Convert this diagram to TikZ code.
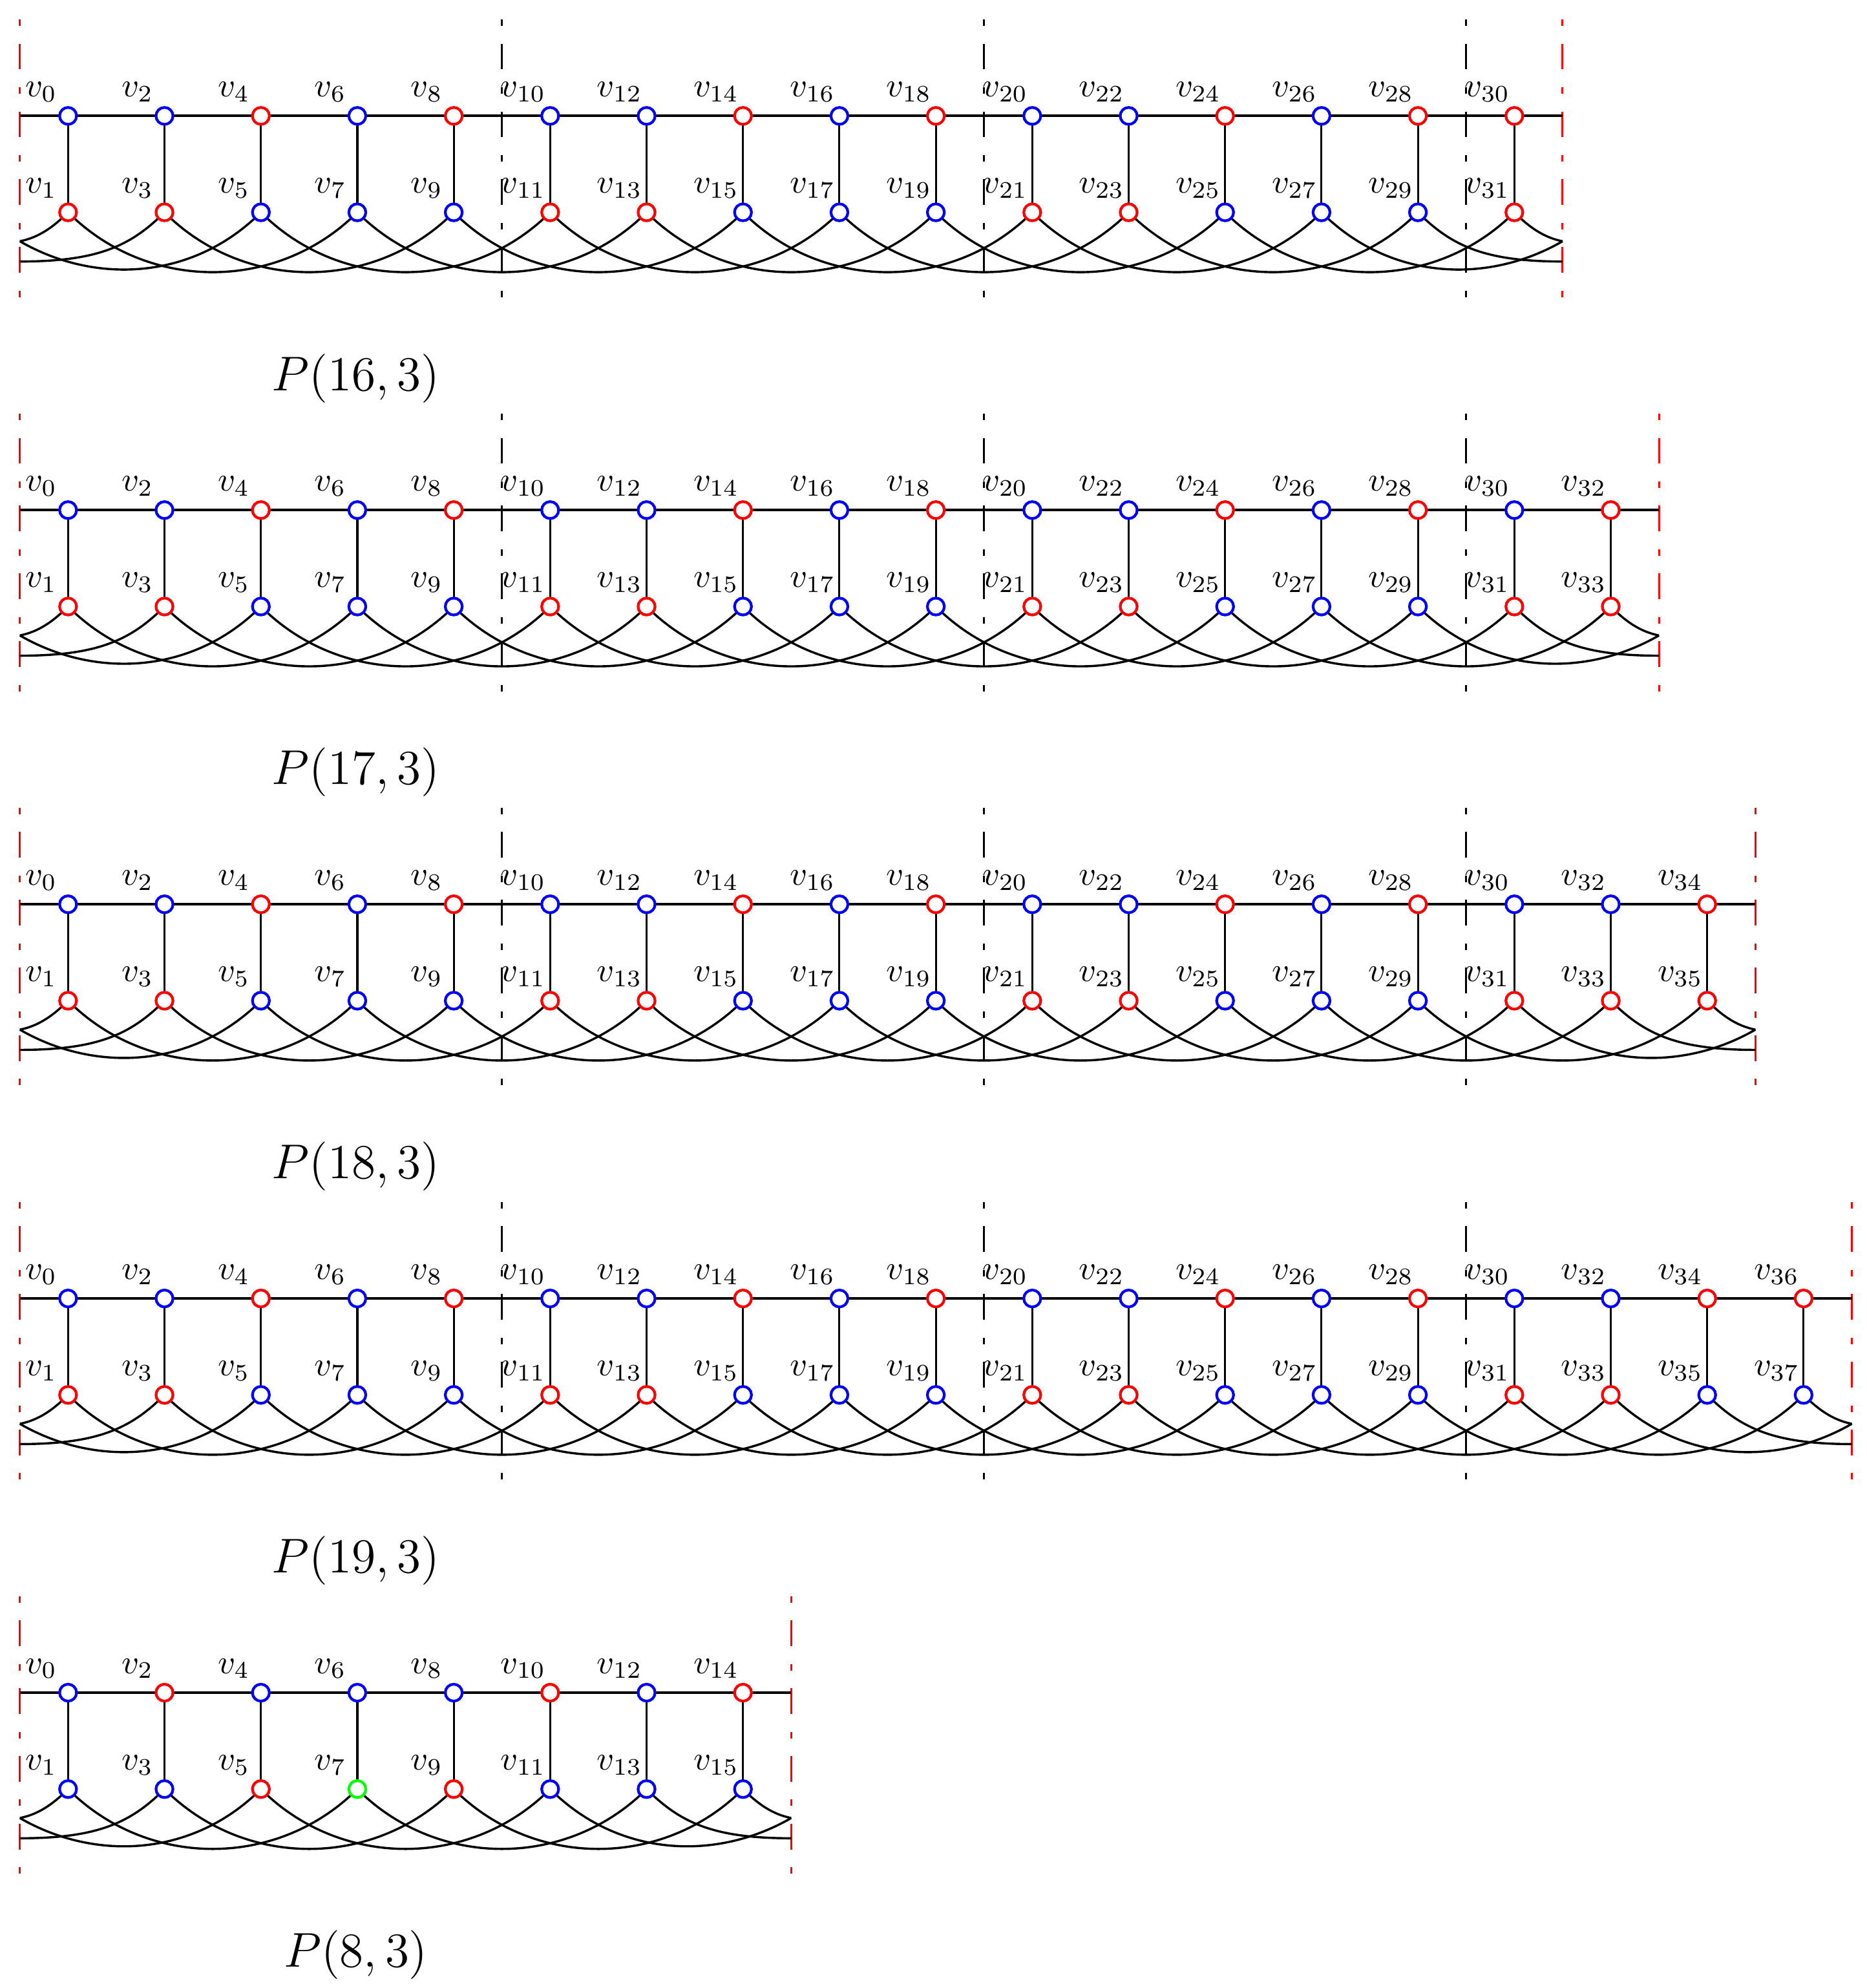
\documentclass[tikz,border=0pt]{standalone}
\usetikzlibrary{calc}
\definecolor{cB}{rgb}{0,0,1}
\definecolor{cR}{rgb}{1,0,0}
\definecolor{cG}{rgb}{0,1,0}
\tikzset{
  vtx/.style={circle, draw, fill=white, line width=0.8pt, minimum size=5pt, inner sep=0pt},
  rim/.style={line width=0.8pt},
  spoke/.style={line width=0.6pt},
  chord/.style={line width=0.65pt},
  bnd/.style={line width=0.6pt, dash pattern=on 1.9pt off 5.25pt on 7.6pt off 5.25pt},
  lbl/.style={inner sep=0pt},
  captext/.style={inner sep=0pt, font=\Large},
}
\newcommand\drawpanel[5]{%
  \pgfmathsetmacro\yt{-(1.202+4.088*#1)}%
  \pgfmathsetmacro\yb{\yt-1}%
  \pgfmathtruncatemacro\pnL{#2-1}%
  \pgfmathtruncatemacro\pnM{#2-2}%
  \pgfmathtruncatemacro\pnN{#2-3}%
  \pgfmathtruncatemacro\pnQ{#2-4}%
  \pgfmathsetmacro\xr{0.206+#2}%
  \foreach \j in {0,...,\pnL}{
    \coordinate (P#1t\j) at (0.706+\j,\yt);
    \coordinate (P#1b\j) at (0.706+\j,\yb);
  }
  \coordinate (P#1L) at (0.206,\yt);
  \coordinate (P#1R) at (\xr,\yt);
  \coordinate (P#1La) at (0.206,\yb-0.30);
  \coordinate (P#1Lb) at (0.206,\yb-0.51);
  \coordinate (P#1Ra) at (\xr,\yb-0.30);
  \coordinate (P#1Rb) at (\xr,\yb-0.51);
  \coordinate (P#1Ltop) at (0.206,\yt+1);
  \coordinate (P#1Lbot) at (0.206,\yt-1.89);
  \coordinate (P#1Rtop) at (\xr,\yt+1);
  \coordinate (P#1Rbot) at (\xr,\yt-1.89);
  % boundary lines
  \draw[bnd,cR] (P#1Ltop) -- (P#1Lbot);
  \draw[bnd,cR] (P#1Rtop) -- (P#1Rbot);
  \ifnum#2>10
    \foreach \m in {5,10,15}{
      \coordinate (P#1Dt\m) at (0.206+\m,\yt+1);
      \coordinate (P#1Db\m) at (0.206+\m,\yt-1.89);
      \draw[bnd] (P#1Dt\m) -- (P#1Db\m);
    }
  \fi
  % rim
  \draw[rim] (P#1L) -- (P#1t0);
  \foreach \j in {1,...,\pnL}{
    \pgfmathtruncatemacro\pnI{\j-1}
    \draw[rim] (P#1t\pnI) -- (P#1t\j);
  }
  \draw[rim] (P#1t\pnL) -- (P#1R);
  % spokes
  \foreach \j in {0,...,\pnL}{
    \draw[spoke] (P#1t\j) -- (P#1b\j);
  }
  % chords
  \foreach \j in {0,...,\pnQ}{
    \pgfmathtruncatemacro\pnK{\j+3}
    \draw[chord] (P#1b\j) to[bend right=45] (P#1b\pnK);
  }
  % wrapped chords
  \draw[chord] (P#1b0) .. controls +(-0.15,-0.15) and +(0.2,0.04) .. (P#1La);
  \draw[chord] (P#1La) .. controls +(0.779,-0.45) and +(-0.707,-0.707) .. (P#1b2);
  \draw[chord] (P#1Lb) .. controls +(0.8,0) and +(-0.354,-0.354) .. (P#1b1);
  \draw[chord] (P#1b\pnL) .. controls +(0.15,-0.15) and +(-0.2,0.04) .. (P#1Ra);
  \draw[chord] (P#1Ra) .. controls +(-0.779,-0.45) and +(0.707,-0.707) .. (P#1b\pnN);
  \draw[chord] (P#1Rb) .. controls +(-0.8,0) and +(0.354,-0.354) .. (P#1b\pnM);
  % vertices and labels
  \foreach \pnC [count=\j from 0] in {#3}{
    \pgfmathtruncatemacro\pnS{2*\j}
    \node[vtx,draw=\pnC] (P#1nt\j) at (P#1t\j) {};
    \node[lbl] (P#1lt\j) at ($(P#1t\j)+(-0.28,0.25)$) {$v_{\pnS}$};
  }
  \foreach \pnC [count=\j from 0] in {#4}{
    \pgfmathtruncatemacro\pnS{2*\j+1}
    \node[vtx,draw=\pnC] (P#1nb\j) at (P#1b\j) {};
    \node[lbl] (P#1lb\j) at ($(P#1b\j)+(-0.28,0.25)$) {$v_{\pnS}$};
  }
  \node[captext] (P#1cap) at (3.69,\yt-2.72) {$P(#5,3)$};
}
\begin{document}
\begin{tikzpicture}
\useasboundingbox (0,0) rectangle (19.363,-20.617);
\drawpanel{0}{16}{cB,cB,cR,cB,cR,cB,cB,cR,cB,cR,cB,cB,cR,cB,cR,cR}{cR,cR,cB,cB,cB,cR,cR,cB,cB,cB,cR,cR,cB,cB,cB,cR}{16}
\drawpanel{1}{17}{cB,cB,cR,cB,cR,cB,cB,cR,cB,cR,cB,cB,cR,cB,cR,cB,cR}{cR,cR,cB,cB,cB,cR,cR,cB,cB,cB,cR,cR,cB,cB,cB,cR,cR}{17}
\drawpanel{2}{18}{cB,cB,cR,cB,cR,cB,cB,cR,cB,cR,cB,cB,cR,cB,cR,cB,cB,cR}{cR,cR,cB,cB,cB,cR,cR,cB,cB,cB,cR,cR,cB,cB,cB,cR,cR,cR}{18}
\drawpanel{3}{19}{cB,cB,cR,cB,cR,cB,cB,cR,cB,cR,cB,cB,cR,cB,cR,cB,cB,cR,cR}{cR,cR,cB,cB,cB,cR,cR,cB,cB,cB,cR,cR,cB,cB,cB,cR,cR,cB,cB}{19}
\drawpanel{4}{8}{cB,cR,cB,cB,cB,cR,cB,cR}{cB,cB,cR,cG,cR,cB,cB,cB}{8}
\end{tikzpicture}
\end{document}
